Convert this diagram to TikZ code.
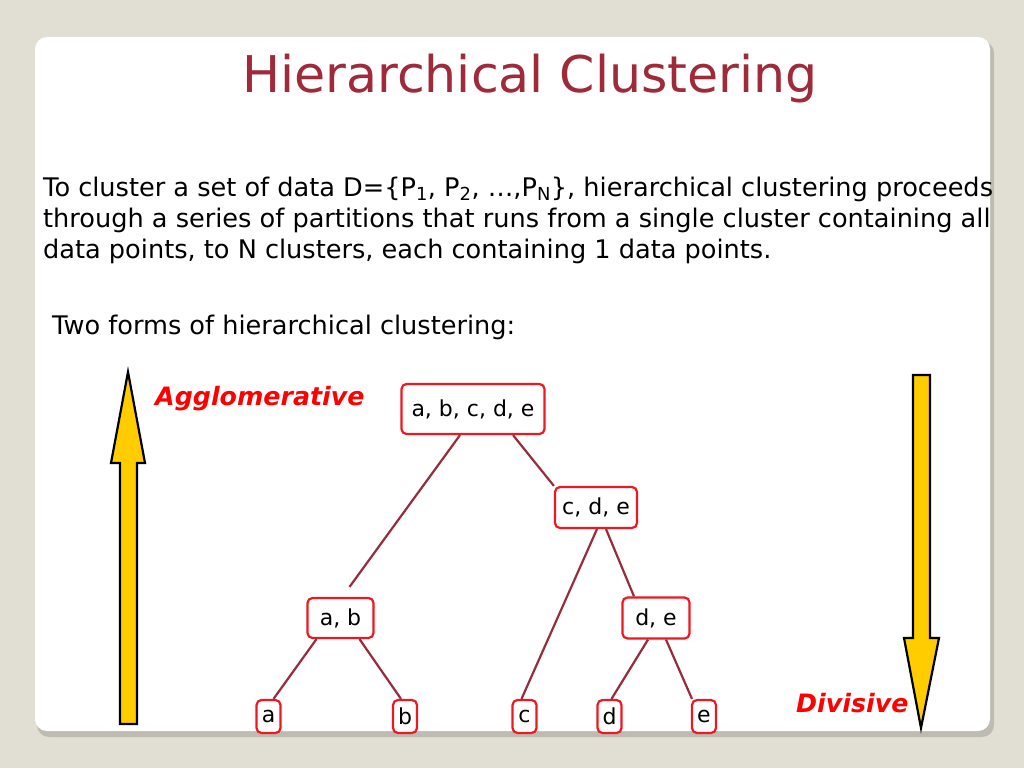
\documentclass[tikz,border=0pt]{standalone}
\usepackage{fontspec}
\setmainfont{DejaVu Sans}
\usepackage{xcolor}
\usetikzlibrary{calc}

\definecolor{pagebg}{RGB}{225,222,211}
\definecolor{cardshadow}{RGB}{190,187,178}
\definecolor{titlered}{RGB}{158,42,58}
\definecolor{boxred}{RGB}{238,24,32}
\definecolor{linkred}{RGB}{150,45,60}
\definecolor{arrowyellow}{RGB}{255,204,0}

\begin{document}
\begin{tikzpicture}[x=1pt,y=-1pt,
    cluster/.style={draw=boxred, line width=2.2pt, rounded corners=5pt, fill=white,
        inner sep=0pt, font=\fontsize{22}{26}\selectfont},
    link/.style={draw=linkred, line width=2.2pt},
    bigarrow/.style={draw=black, line width=2.2pt, fill=arrowyellow, line join=miter},
    method/.style={text=red, anchor=base west, inner sep=0pt, font=\fontsize{25.3}{30}\selectfont\bfseries\itshape},
    bodytext/.style={anchor=base west, inner sep=0pt, font=\fontsize{25.6}{31}\selectfont}]
    % page and card
    \fill[pagebg] (0,0) rectangle (1024,768);
    \fill[cardshadow, rounded corners=12pt] (37,41) rectangle (994,737);
    \fill[white, rounded corners=12pt] (35,37) rectangle (990,731);

    \node[text=titlered, anchor=base, inner sep=0pt, font=\fontsize{50.6}{60}\selectfont] (title) at (530,92) {Hierarchical Clustering};

    \node[bodytext] (line1) at (43,196) {To cluster a set of data D=\{P\textsubscript{1}, P\textsubscript{2}, …,P\textsubscript{N}\}, hierarchical clustering proceeds};
    \node[bodytext] (line2) at (43,227) {through a series of partitions that runs from a single cluster containing all};
    \node[bodytext] (line3) at (43,258) {data points, to N clusters, each containing 1 data points.};
    \node[bodytext] (forms) at (52,334) {Two forms of hierarchical clustering:};

    % the two yellow arrows
    \draw[bigarrow] (120,724) -- (120,463) -- (111,463) -- (128,372) -- (145,463) -- (137,463) -- (137,724) -- cycle;
    \draw[bigarrow] (913,375) -- (930,375) -- (930,638) -- (939,638) -- (921,728) -- (904,638) -- (913,638) -- cycle;
    \node[method] (agglo) at (155,405) {Agglomerative};
    \node[method] (divis) at (796,712) {Divisive};

    % tree
    \node[cluster, minimum width=143, minimum height=50] (abcde) at (473,409) {a, b, c, d, e};
    \node[cluster, minimum width=82, minimum height=41] (cde) at (596,507.5) {c, d, e};
    \node[cluster, minimum width=66, minimum height=40] (ab) at (340.5,618) {a, b};
    \node[cluster, minimum width=67, minimum height=41] (de) at (656,618) {d, e};
    \node[cluster, minimum width=24, minimum height=33] (a) at (268.5,716.5) {a};
    \node[cluster, minimum width=24, minimum height=33] (b) at (405,716.5) {b};
    \node[cluster, minimum width=24, minimum height=33] (c) at (524.5,716.5) {c};
    \node[cluster, minimum width=24, minimum height=33] (d) at (609.5,716.5) {d};
    \node[cluster, minimum width=24, minimum height=33] (e) at (704,716.5) {e};

    \draw[link] ($(abcde.south)+(-13,0)$) -- ($(ab.north)+(9,-10)$);
    \draw[link] ($(abcde.south)+(40,0)$) -- (cde.north west);
    \draw[link] ($(cde.south)+(1,0)$) -- ($(c.north)+(-3,0)$);
    \draw[link] ($(cde.south)+(10,0)$) -- ($(de.north)+(-22,0)$);
    \draw[link] ($(ab.south)+(-24,0)$) -- ($(a.north)+(5,0)$);
    \draw[link] ($(ab.south)+(19,0)$) -- ($(b.north)+(-4,0)$);
    \draw[link] ($(de.south)+(-8,0)$) -- ($(d.north)+(2,0)$);
    \draw[link] ($(de.south)+(10,0)$) -- ($(e.north)+(-12,0)$);
\end{tikzpicture}
\end{document}
